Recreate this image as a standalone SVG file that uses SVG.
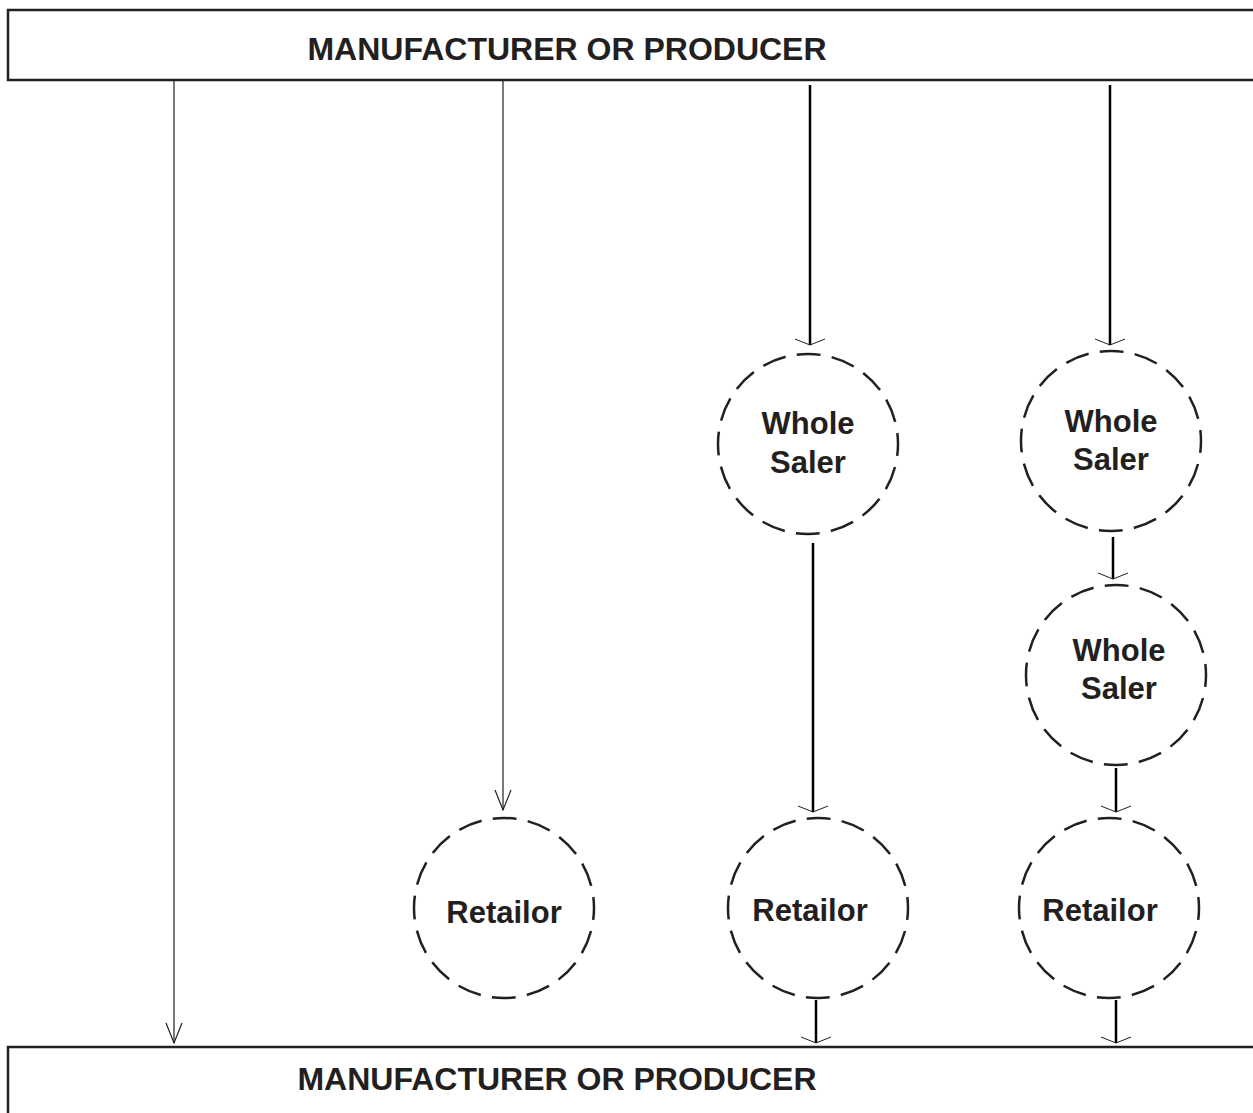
<svg xmlns="http://www.w3.org/2000/svg" width="1253" height="1113" viewBox="0 0 1253 1113">
<defs>
<marker id="flat" markerUnits="userSpaceOnUse" viewBox="-20 -20 40 40" markerWidth="40" markerHeight="40" refX="0" refY="0" orient="auto">
<path d="M-6,-15 L0,0 L-6,15" fill="none" stroke="#231f20" stroke-width="1"/>
</marker>
<marker id="vee" markerUnits="userSpaceOnUse" viewBox="-25 -25 50 50" markerWidth="50" markerHeight="50" refX="0" refY="0" orient="auto">
<path d="M-20,-8 L0,0 L-20,8" fill="none" stroke="#231f20" stroke-width="1.2"/>
</marker>
</defs>
<style>
.box{fill:#fff;stroke:#231f20;stroke-width:2.5}
.btxt{font-family:"Liberation Sans",Arial,sans-serif;font-weight:bold;font-size:32px;fill:#231f20;text-anchor:middle}
.node{fill:#fff;stroke:#231f20;stroke-width:2.5;stroke-dasharray:24 11.34;stroke-dashoffset:12}
.ntxt{font-family:"Liberation Sans",Arial,sans-serif;font-weight:bold;font-size:31px;fill:#231f20;text-anchor:middle}
.thin{stroke:#231f20;stroke-width:1.2;fill:none;marker-end:url(#vee)}
.thick{stroke:#000;stroke-width:2.5;fill:none;marker-end:url(#flat)}
</style>
<rect width="1253" height="1113" fill="#fff"/>
<g id="top-box">
<rect class="box" x="8" y="10" width="1260" height="70"/>
<text class="btxt" x="567" y="60">MANUFACTURER OR PRODUCER</text>
</g>
<g id="bottom-box">
<rect class="box" x="8" y="1047" width="1260" height="80"/>
<text class="btxt" x="557" y="1090">MANUFACTURER OR PRODUCER</text>
</g>
<g id="wholesaler-1">
<circle class="node" cx="808" cy="444" r="90"/>
<text class="ntxt" x="808" y="434">Whole</text>
<text class="ntxt" x="808" y="473">Saler</text>
</g>
<g id="wholesaler-2">
<circle class="node" cx="1111" cy="441" r="90"/>
<text class="ntxt" x="1111" y="432">Whole</text>
<text class="ntxt" x="1111" y="470">Saler</text>
</g>
<g id="wholesaler-3">
<circle class="node" cx="1116" cy="675" r="90"/>
<text class="ntxt" x="1119" y="661">Whole</text>
<text class="ntxt" x="1119" y="699">Saler</text>
</g>
<g id="retailor-1">
<circle class="node" cx="504" cy="908" r="90"/>
<text class="ntxt" x="504" y="923">Retailor</text>
</g>
<g id="retailor-2">
<circle class="node" cx="818" cy="908" r="90"/>
<text class="ntxt" x="810" y="921">Retailor</text>
</g>
<g id="retailor-3">
<circle class="node" cx="1109" cy="908" r="90"/>
<text class="ntxt" x="1100" y="921">Retailor</text>
</g>
<g id="connectors">
<line class="thin" x1="174" y1="81" x2="174" y2="1043"/>
<line class="thin" x1="503" y1="81" x2="503" y2="810"/>
<line class="thick" x1="810" y1="85" x2="810" y2="345"/>
<line class="thick" x1="1110" y1="85" x2="1110" y2="345"/>
<line class="thick" x1="813" y1="543" x2="813" y2="812"/>
<line class="thick" x1="1113" y1="537" x2="1113" y2="579"/>
<line class="thick" x1="1116" y1="768" x2="1116" y2="812"/>
<line class="thick" x1="816" y1="1000" x2="816" y2="1043"/>
<line class="thick" x1="1116" y1="1000" x2="1116" y2="1043"/>
</g>
</svg>
